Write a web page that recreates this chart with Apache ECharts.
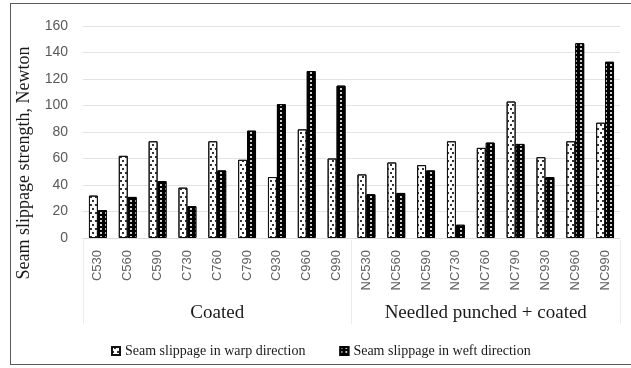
<!DOCTYPE html>
<html>
<head>
<meta charset="utf-8">
<script src="https://cdn.jsdelivr.net/npm/echarts@6/dist/echarts.min.js"></script>
<style>
  html, body { margin: 0; padding: 0; background: #fff; }
  #wrap { position: relative; width: 631px; height: 368px; overflow: hidden; }
  #chart { width: 631px; height: 368px; }
  #frame { position: absolute; left: 10px; top: 3px; width: 700px; height: 362px;
           border: 1.5px solid #5a5a5a; border-right: none; pointer-events: none; box-sizing: border-box; }
</style>
</head>
<body>
<div id="wrap">
  <div id="chart"></div>
  <div id="frame"></div>
</div>
<script>
const categories = ['C530','C560','C590','C730','C760','C790','C930','C960','C990',
                    'NC530','NC560','NC590','NC730','NC760','NC790','NC930','NC960','NC990'];
const groups = ['Coated', 'Needled punched + coated'];
const warp = [32, 62, 73, 38, 73, 59, 46, 82, 60, 48, 57, 55, 73, 68, 103, 61, 73, 87];
const weft = [21, 31, 43, 24, 51, 81, 101, 126, 115, 33, 34, 51, 10, 72, 71, 46, 147, 133];
const yTicks = { min: 0, max: 160, interval: 20 };
const seriesNames = ['Seam slippage in warp direction', 'Seam slippage in weft direction'];

const chart = echarts.init(document.getElementById('chart'), null, { renderer: 'canvas' });
const serif = '"Liberation Serif", "Times New Roman", serif';
const sans = '"Liberation Sans", Arial, sans-serif';

chart.setOption({
  animation: false,
  backgroundColor: '#fff',
  grid: { left: 83, right: 11, top: 26, bottom: 130, containLabel: false },
  legend: {
    data: seriesNames,
    left: 106,
    top: 339,
    icon: 'rect',
    itemWidth: 8,
    itemHeight: 8,
    itemGap: 34,
    textStyle: { fontFamily: serif, fontSize: 14, color: '#1a1a1a' }
  },
  xAxis: [
    {
      type: 'category',
      data: categories,
      boundaryGap: true,
      axisLine: { show: true, lineStyle: { color: '#dcdcdc', width: 1 } },
      axisTick: { show: false },
      axisLabel: { rotate: 90, margin: 12, fontFamily: sans, fontSize: 13, color: '#606060', interval: 0 }
    },
    {
      type: 'category',
      data: groups,
      position: 'bottom',
      offset: 86,
      boundaryGap: true,
      axisLine: { show: false },
      axisTick: { show: true, inside: true, length: 84, lineStyle: { color: '#ececec', width: 1 } },
      axisLabel: { margin: -11, verticalAlign: 'middle', fontFamily: serif, fontSize: 19, color: '#1a1a1a', interval: 0 },
      splitLine: { show: false }
    }
  ],
  yAxis: {
    type: 'value',
    min: yTicks.min,
    max: yTicks.max,
    interval: yTicks.interval,
    name: 'Seam slippage strength, Newton',
    nameLocation: 'middle',
    nameRotate: 90,
    nameGap: 50,
    nameTextStyle: { fontFamily: serif, fontSize: 18, color: '#1a1a1a', padding: [0, 62, 0, 0] },
    axisLine: { show: false },
    axisTick: { show: false },
    axisLabel: { margin: 15, fontFamily: sans, fontSize: 14, color: '#595959' },
    splitLine: { lineStyle: { color: '#e3e3e3', width: 1 } }
  },
  series: [
    {
      name: seriesNames[0],
      type: 'bar',
      xAxisIndex: 0,
      data: warp,
      barWidth: '30%',
      barGap: '0%',
      itemStyle: {
        color: '#ffffff',
        borderColor: '#111',
        borderWidth: 1,
        decal: {
          symbol: 'rect',
          symbolSize: 1,
          color: '#333',
          dashArrayX: [[1.5, 2.5], [0, 2, 1.5, 0.5]],
          dashArrayY: [1.5, 1.5],
          rotation: 0
        }
      }
    },
    {
      name: seriesNames[1],
      type: 'bar',
      xAxisIndex: 0,
      data: weft,
      barWidth: '30%',
      barGap: '0%',
      itemStyle: {
        color: '#000000',
        borderColor: '#000',
        borderWidth: 1,
        decal: {
          symbol: 'rect',
          symbolSize: 1,
          color: '#cfcfcf',
          dashArrayX: [1.5, 2.5],
          dashArrayY: [1.5, 1.5],
          rotation: 0
        }
      }
    }
  ]
});
</script>
</body>
</html>
